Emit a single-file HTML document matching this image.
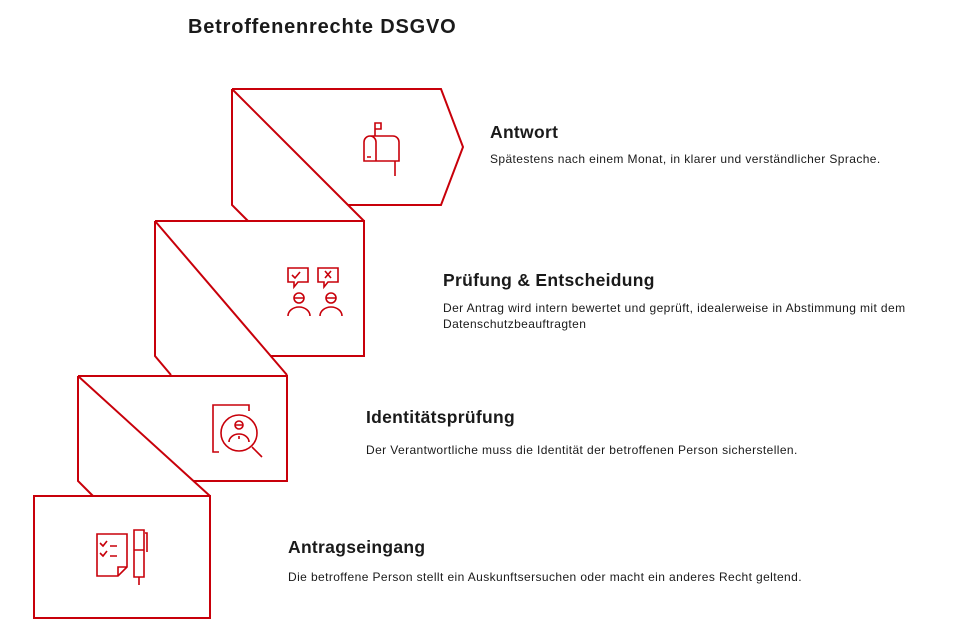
<!DOCTYPE html>
<html><head><meta charset="utf-8"><style>
body{margin:0;width:962px;height:641px;background:#fff;font-family:"Liberation Sans",sans-serif;color:#111;position:relative;overflow:hidden}
.t{position:absolute;font-size:17.5px;font-weight:bold;color:#1a1a1a;letter-spacing:0.3px}
.d{position:absolute;font-size:12px;line-height:16px;color:#1a1a1a;letter-spacing:0.4px}
svg{position:absolute;left:0;top:0}
</style></head><body>
<div class="t" style="left:188px;top:16px;font-size:20px;letter-spacing:0.8px">Betroffenenrechte DSGVO</div>
<svg width="962" height="641" fill="none" stroke="#c8000a" stroke-width="2">
<path d="M232 89 H441 L463 147 L441 205 H348 M232 89 V205 L248 221 M232 89 L364 221"/>
<path d="M155 221 H364 V356 H270 M155 221 V356 L171 375 M155 221 L287 375"/>
<path d="M78 376 H287 V481 H193 M78 376 V481 L93 496 M78 376 L210 496"/>
<rect x="34" y="496" width="176" height="122"/>
<g stroke-width="1.6">
<path d="M375 136 V123 h6 v6 h-6"/>
<path d="M364 161 v-19 a6 6 0 0 1 12 0 v19 z M370 136 h23 a6 6 0 0 1 6 6 v19 h-23 M367 157 h4 M395 161 v15"/>
<path d="M288 268 h20 v14 h-10 l-4 5 v-5 h-6 z M292 275 l3 3 5 -6 M318 268 h20 v14 h-10 l-4 5 v-5 h-6 z M325 271 l6 7 M331 271 l-6 7"/>
<circle cx="299" cy="298" r="5"/><path d="M294 298 h10 M288 316 a11 9 0 0 1 22 0"/>
<circle cx="331" cy="298" r="5"/><path d="M326 298 h10 M320 316 a11 9 0 0 1 22 0"/>
<path d="M219 452 h-6 v-47 h36 v6"/>
<circle cx="239" cy="433" r="18"/><circle cx="239" cy="425" r="4"/><path d="M235 425 h8 M229 442 a10 8 0 0 1 20 0 M239 436 v3 M252 447 l10 10"/>
<path d="M97 534 h30 v33 l-9 9 h-21 z M118 576 v-9 h9 M100 543 l3 3 4 -5 M110 546 h7 M100 553 l3 3 4 -5 M110 556 h7"/>
<path d="M134 530 h10 v47 h-10 z M134 550 h10 M139 577 v8 M145 533 h2 v19"/>
</g>
</svg>
<div class="t" style="left:490px;top:122px">Antwort</div>
<div class="d" style="left:490px;top:151px">Spätestens nach einem Monat, in klarer und verständlicher Sprache.</div>
<div class="t" style="left:443px;top:270px">Prüfung &amp; Entscheidung</div>
<div class="d" style="left:443px;top:300px">Der Antrag wird intern bewertet und geprüft, idealerweise in Abstimmung mit dem<br>Datenschutzbeauftragten</div>
<div class="t" style="left:366px;top:407px">Identitätsprüfung</div>
<div class="d" style="left:366px;top:442px">Der Verantwortliche muss die Identität der betroffenen Person sicherstellen.</div>
<div class="t" style="left:288px;top:537px">Antragseingang</div>
<div class="d" style="left:288px;top:569px">Die betroffene Person stellt ein Auskunftsersuchen oder macht ein anderes Recht geltend.</div>
</body></html>
